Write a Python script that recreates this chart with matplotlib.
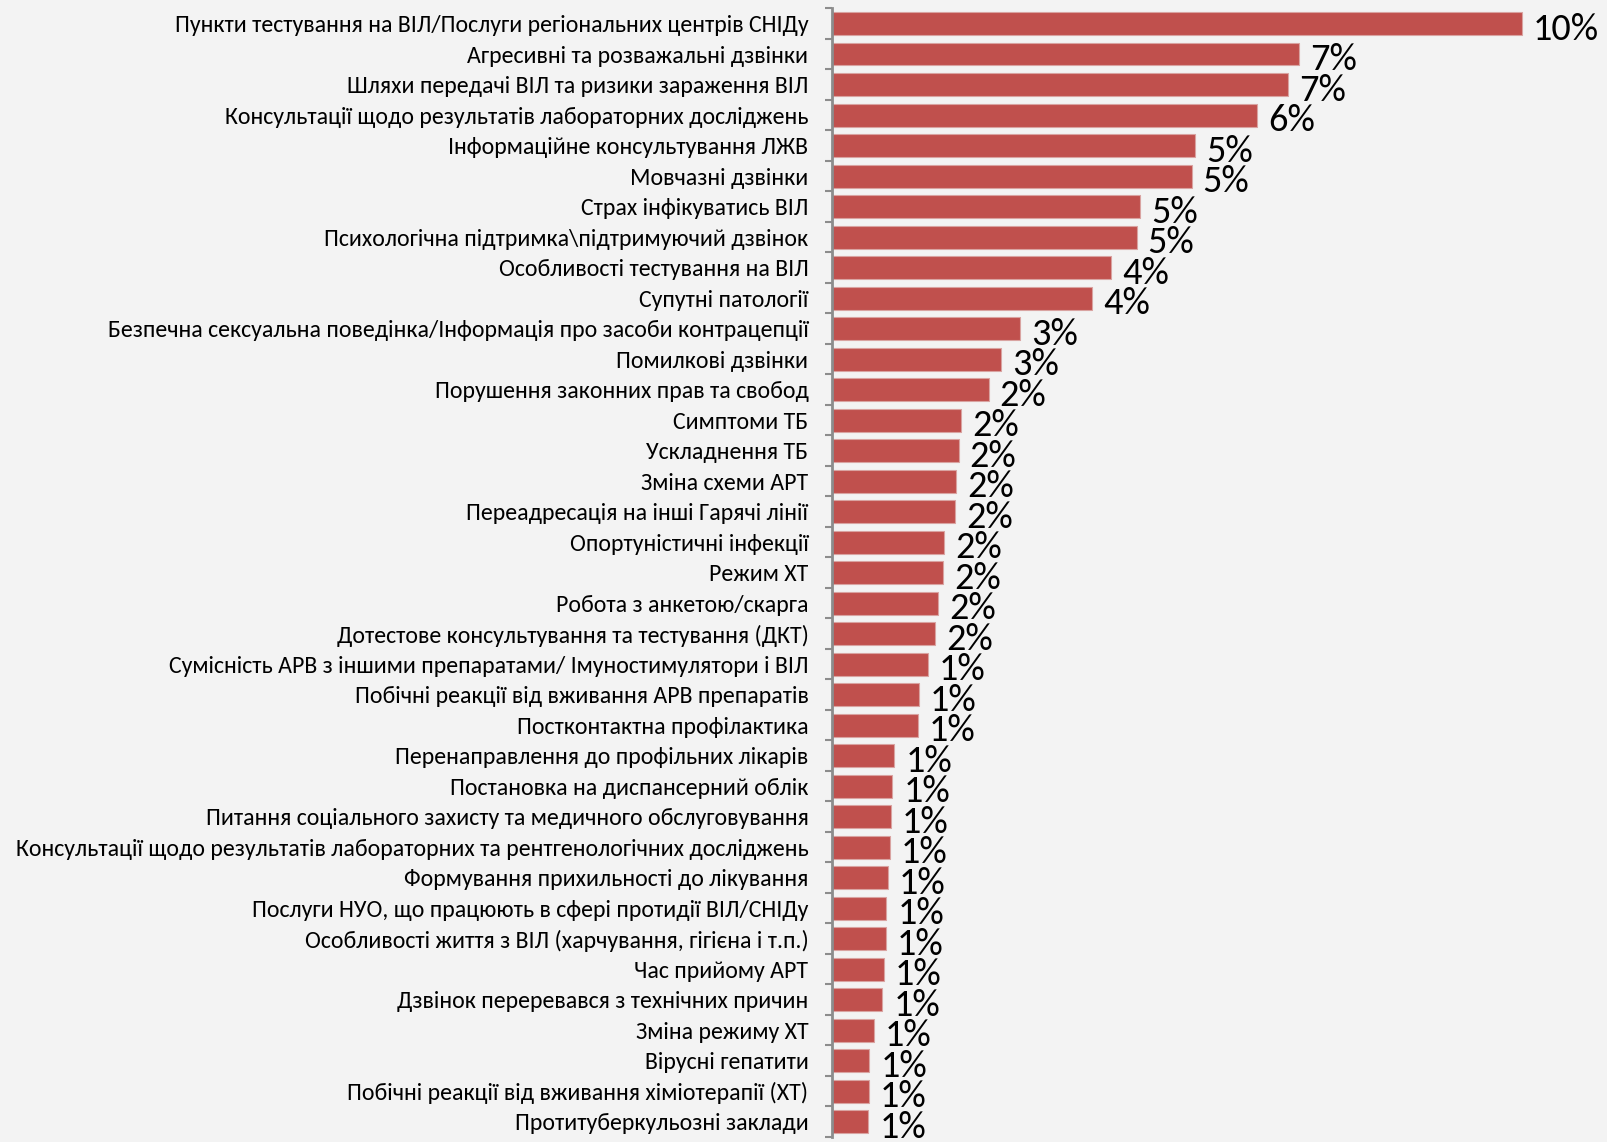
import matplotlib
matplotlib.use("Agg")
import matplotlib.pyplot as plt
from matplotlib import font_manager
from matplotlib.ticker import FixedLocator

categories = [
    "Пункти тестування на ВІЛ/Послуги регіональних центрів СНІДу",
    "Агресивні та розважальні дзвінки",
    "Шляхи передачі ВІЛ та ризики зараження ВІЛ",
    "Консультації щодо результатів лабораторних досліджень",
    "Інформаційне консультування ЛЖВ",
    "Мовчазні дзвінки",
    "Страх інфікуватись ВІЛ",
    "Психологічна підтримка\\підтримуючий дзвінок",
    "Особливості тестування на ВІЛ",
    "Супутні патології",
    "Безпечна сексуальна поведінка/Інформація про засоби контрацепції",
    "Помилкові дзвінки",
    "Порушення законних прав та свобод",
    "Симптоми ТБ",
    "Ускладнення ТБ",
    "Зміна схеми АРТ",
    "Переадресація на інші Гарячі лінії",
    "Опортуністичні інфекції",
    "Режим ХТ",
    "Робота з анкетою/скарга",
    "Дотестове консультування та тестування (ДКТ)",
    "Сумісність АРВ з іншими препаратами/ Імуностимулятори і ВІЛ",
    "Побічні реакції від вживання АРВ препаратів",
    "Постконтактна профілактика",
    "Перенаправлення до профільних лікарів",
    "Постановка на диспансерний облік",
    "Питання соціального захисту та медичного обслуговування",
    "Консультації щодо результатів лабораторних та рентгенологічних досліджень",
    "Формування прихильності до лікування",
    "Послуги НУО, що працюють в сфері протидії ВІЛ/СНІДу",
    "Особливості життя з ВІЛ (харчування, гігієна і т.п.)",
    "Час прийому АРТ",
    "Дзвінок переревався з технічних причин",
    "Зміна режиму ХТ",
    "Вірусні гепатити",
    "Побічні реакції від вживання хіміотерапії (ХТ)",
    "Протитуберкульозні заклади",
]

values = [
    10.3, 6.97, 6.81, 6.35, 5.42, 5.37, 4.60, 4.55, 4.17, 3.88,
    2.81, 2.53, 2.34, 1.93, 1.89, 1.85, 1.84, 1.67, 1.66, 1.58,
    1.54, 1.43, 1.30, 1.28, 0.93, 0.90, 0.88, 0.86, 0.83, 0.81,
    0.80, 0.77, 0.75, 0.62, 0.56, 0.55, 0.54,
]

value_labels = [f"{int(v + 0.5)}%" for v in values]

# pick a Calibri-like face when one is installed
installed = {f.name for f in font_manager.fontManager.ttflist}
choices = [("Carlito", 17.2, 27.5), ("Liberation Sans Narrow", 15.0, 25.0),
           ("DejaVu Sans", 13.6, 23.0)]
for name, tick_fs, val_fs in choices:
    if name in installed:
        break
FONT = [name, "DejaVu Sans"]
plt.rcParams["font.family"] = FONT

W, H = 1608, 1142
fig = plt.figure(figsize=(W / 100, H / 100), dpi=100)
bg = "#f3f3f3"
fig.patch.set_facecolor(bg)

ax_left = 832 / W
ax_top = 8.3 / H
ax_bottom = 5 / H
ax = fig.add_axes([ax_left, ax_bottom, 1 - ax_left, 1 - ax_top - ax_bottom])
ax.set_facecolor("none")

n = len(categories)
pos = list(range(n))
ax.barh(pos, values, height=0.75, color="#C0504D", edgecolor="#d9a3a1", linewidth=0.8, zorder=2)

px_per_unit = 689.6 / values[0]
ax.set_xlim(0, (W - 832) / px_per_unit)
ax.set_ylim(n - 0.5, -0.5)

ax.set_yticks(pos)
ax.set_yticklabels(categories, fontsize=tick_fs, color="#000000")
ax.yaxis.set_minor_locator(FixedLocator([i - 0.5 for i in range(n + 1)]))
ax.tick_params(axis="y", which="major", length=0, pad=17)
ax.tick_params(axis="y", which="minor", length=5, width=1.5, color="#8c8c8c", direction="out")
ax.set_xticks([])

for s in ["top", "right", "bottom"]:
    ax.spines[s].set_visible(False)
ax.spines["left"].set_color("#8c8c8c")
ax.spines["left"].set_linewidth(2)

for p, v, lab in zip(pos, values, value_labels):
    ax.annotate(lab, xy=(v, p), xytext=(8, -4), textcoords="offset points",
                ha="left", va="center", fontsize=val_fs, color="#000000", zorder=3)

fig.savefig("out.png", dpi=100, facecolor=bg)
